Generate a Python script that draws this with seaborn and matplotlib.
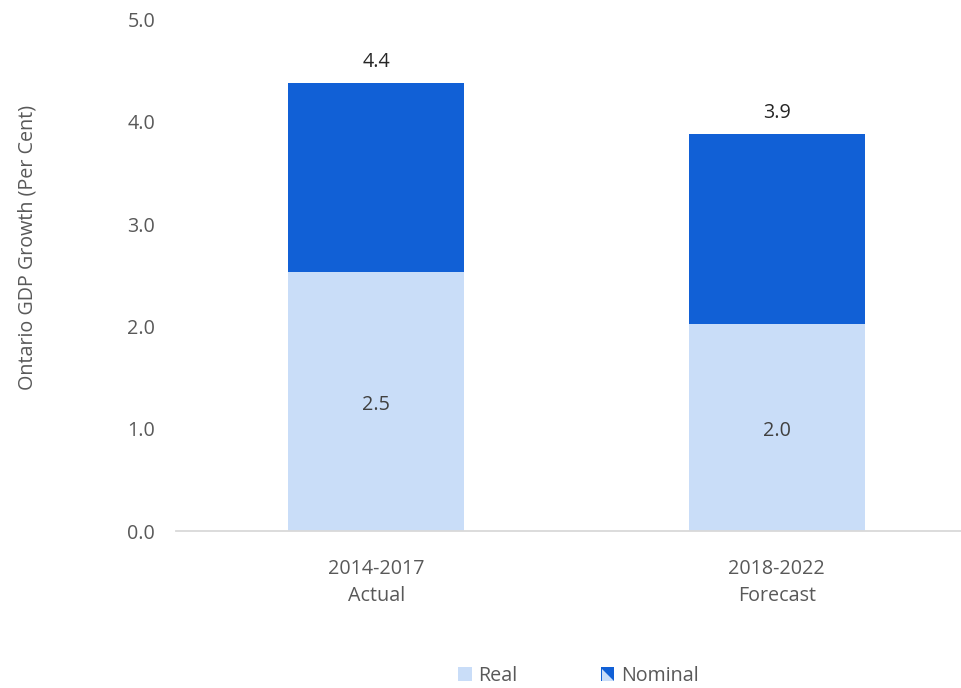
import matplotlib
matplotlib.use("Agg")
import matplotlib.pyplot as plt
from matplotlib.patches import Polygon, Rectangle
import seaborn as sns
import pandas as pd

# Ontario GDP growth, average annual per cent
periods = ["2014-2017\nActual", "2018-2022\nForecast"]
real_growth = [2.53, 2.02]
nominal_growth = [4.38, 3.88]

REAL_COLOR = "#C9DDF8"
NOMINAL_COLOR = "#1160D6"
TEXT_COLOR = "#595959"
FS = 14.2

sns.set_theme(style="white")
plt.rcParams["font.family"] = ["Open Sans", "DejaVu Sans"]

df = pd.DataFrame({"period": periods, "real": real_growth, "nominal": nominal_growth})

fig = plt.figure(figsize=(9.61, 6.88), dpi=100)
ax = fig.add_axes([0.183, 0.228, 0.817, 0.744])

# Nominal bar behind, real bar in front: the visible dark part is the nominal excess
sns.barplot(data=df, x="period", y="nominal", color=NOMINAL_COLOR, width=0.44,
            saturation=1, linewidth=0, ax=ax)
sns.barplot(data=df, x="period", y="real", color=REAL_COLOR, width=0.44,
            saturation=1, linewidth=0, ax=ax)

for i, (r, n) in enumerate(zip(real_growth, nominal_growth)):
    ax.text(i, n + 0.205, f"{n:.1f}", ha="center", va="center",
            fontsize=FS, color="#262626")
    ax.text(i, r / 2 - 0.03, f"{r:.1f}", ha="center", va="center",
            fontsize=FS, color="#404040")

ax.set_ylim(0, 5.0)
ax.set_yticks([0, 1, 2, 3, 4, 5])
ax.set_yticklabels([f"{v:.1f}" for v in [0, 1, 2, 3, 4, 5]])
ax.set_xlim(-0.5, 1.46)
ax.set_xlabel("")
ax.set_ylabel("Ontario GDP Growth (Per Cent)", fontsize=FS, color=TEXT_COLOR)
ax.yaxis.set_label_coords(-0.176, 0.555)

ax.tick_params(axis="both", length=0, labelsize=FS, labelcolor=TEXT_COLOR)
ax.tick_params(axis="y", pad=15)
ax.tick_params(axis="x", pad=20)
for lbl in ax.get_xticklabels():
    lbl.set_linespacing(1.45)
for side in ["left", "right", "top"]:
    ax.spines[side].set_visible(False)
ax.spines["bottom"].set_color("#D9D9D9")
ax.spines["bottom"].set_linewidth(1.3)


class SplitSquare:
    pass


class SplitSquareHandler:
    def legend_artist(self, legend, orig_handle, fontsize, handlebox):
        x0, y0 = handlebox.xdescent, handlebox.ydescent
        w, h = handlebox.width, handlebox.height
        s = min(w, h)
        x0 = x0 + w - s
        dark = Rectangle((x0, y0), s, s, facecolor=NOMINAL_COLOR, edgecolor="none",
                         transform=handlebox.get_transform())
        light = Polygon([(x0 + s * 0.12, y0 + s * 0.88), (x0 + s * 0.12, y0),
                         (x0 + s, y0)], closed=True, facecolor=REAL_COLOR,
                        edgecolor="none", transform=handlebox.get_transform())
        handlebox.add_artist(dark)
        handlebox.add_artist(light)
        return dark


real_handle = Rectangle((0, 0), 1, 1, facecolor=REAL_COLOR, edgecolor="none")
leg = fig.legend([real_handle, SplitSquare()], ["Real", "Nominal"],
                 handler_map={SplitSquare: SplitSquareHandler()},
                 loc="center", bbox_to_anchor=(0.602, 0.017), ncol=2, frameon=False,
                 fontsize=FS, handlelength=0.7, handleheight=0.7,
                 handletextpad=0.35, columnspacing=4.2)
for t in leg.get_texts():
    t.set_color(TEXT_COLOR)

fig.savefig("out.png", dpi=100)
